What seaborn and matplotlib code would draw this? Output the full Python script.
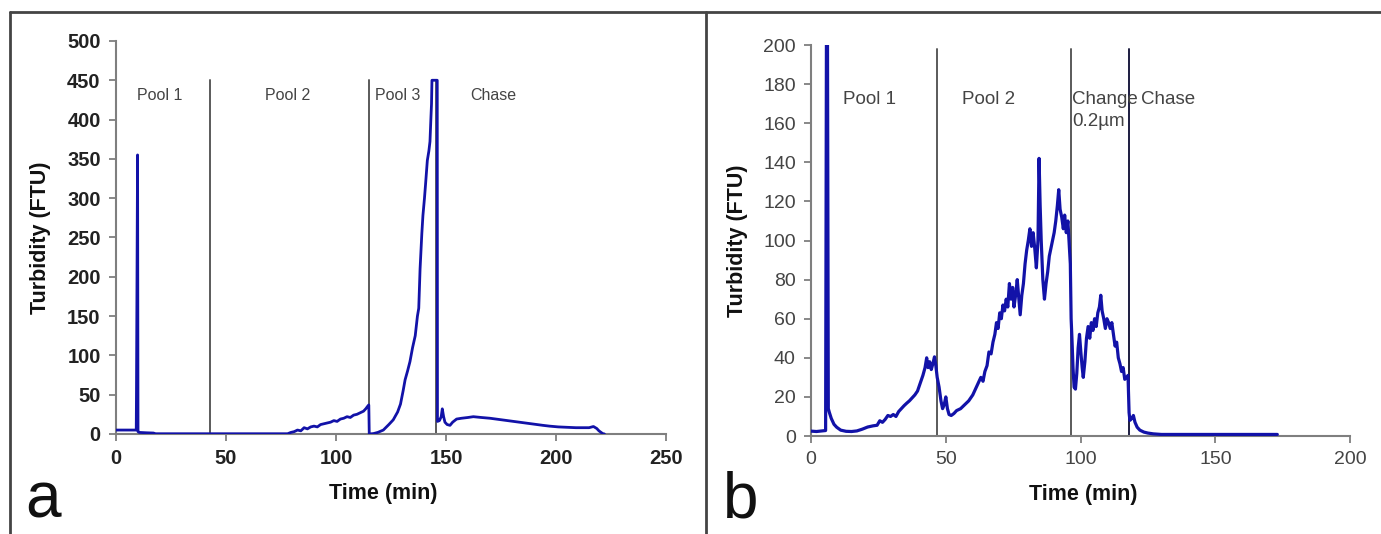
import matplotlib
matplotlib.use("Agg")
import matplotlib.pyplot as plt
import seaborn as sns
import pandas as pd
from matplotlib.lines import Line2D
from matplotlib import font_manager

# ---------------- data ----------------
time_a = [0, 9.2, 9.3, 9.8, 10.0, 10.5, 14, 17, 18, 78, 79.5, 81, 82.5, 84, 85.5, 87, 88.5, 90,
          91.5, 93, 94.5, 96, 97.5, 99, 100.5, 102, 103.5, 105, 106.5, 108, 109.5, 111, 112.5,
          113.5, 114.3, 114.9, 115.1, 117, 119, 121.5, 124, 126, 128, 129.3, 130.5, 131.4, 132.5,
          133.6, 134.8, 136, 137, 137.6, 138.2, 139, 139.5, 140.2, 140.7, 141.5, 142.2, 142.7,
          143.1, 143.4, 143.6, 146, 146.1, 147, 147.8, 148.3, 148.9, 149.5, 150.5, 151.8, 153,
          154.8, 157, 160, 162.4, 166, 170, 174, 178, 182, 186, 190, 194, 197, 201, 205, 209,
          212.4, 215, 217, 218.5, 219.5, 221.2, 222]
turb_a = [5, 5, 50, 355, 3, 2, 1.5, 1.2, 0.3, 0.3, 2, 3, 5, 4, 8, 6.5, 9, 10,
          9, 12, 13, 14, 15, 17, 16, 19, 20, 22, 21, 24, 25, 27, 29,
          32, 35, 37, 0, 0.5, 2, 5, 12, 18, 28, 38, 55, 69, 80,
          92, 110, 125, 150, 160, 210, 255, 278, 300, 318, 348, 360, 372,
          400, 420, 450, 450, 16, 17, 22, 32, 22, 15, 12, 11, 15,
          19, 20, 21, 22, 21, 20, 18.5, 17, 15.5, 14, 12.5, 11, 10, 9, 8.5, 8,
          8, 8, 9.5, 7, 4, 0.5, 0]

time_b = [0, 2, 4, 5.4, 5.7, 6.1, 6.4, 6.8, 7.5, 8.5, 9.5, 11, 13, 15, 17, 19, 21, 23, 24.5,
          25.5, 26.5, 27.5, 28.5, 29.5, 30.5, 31.5, 32.5, 33.5, 34.5, 35.5, 36.5, 37.5, 38.5,
          39.5, 40.5, 41.5, 42.3, 42.9, 43.4, 44, 44.6, 45.2, 45.8, 46.3, 46.8, 47.5, 48.2, 48.8,
          49.4, 50, 50.6, 51.2, 52, 53, 54, 55.5, 57, 58.5, 60, 61, 62, 63, 63.8, 64.5, 65.3, 66,
          66.8, 67.5, 68.2, 68.8, 69.4, 70, 70.6, 71.2, 71.8, 72.4, 73, 73.6, 74.2, 74.8, 75.3,
          75.9, 76.5, 77.1, 77.6, 78.2, 78.8, 79.4, 80, 80.6, 81.2, 81.8, 82.4, 83, 83.6, 84.2,
          84.6, 85, 85.4, 86, 86.6, 87.2, 87.8, 88.4, 89, 89.6, 90.2, 90.8, 91.4, 91.9, 92.4, 93,
          93.6, 94.1, 94.7, 95.3, 95.8, 96.2, 96.5, 96.8, 97.2, 97.6, 98.1, 98.6, 99.1, 99.6,
          100.1, 100.6, 101, 101.6, 102.2, 102.8, 103.4, 104, 104.6, 105.2, 105.8, 106.4, 107,
          107.5, 108, 108.6, 109.2, 109.8, 110.4, 111, 111.6, 112.2, 112.8, 113.4, 114, 114.6,
          115.2, 115.8, 116.4, 117, 117.6, 118, 118.3, 119, 119.6, 120.2, 121, 122, 123.5, 125,
          127, 130, 173]
turb_b = [2.5, 2.3, 2.6, 2.8, 200, 200, 14, 12, 9, 6, 4.5, 3, 2.4, 2.3, 2.6, 3.5, 4.6, 5.2, 5.5,
          7.8, 7, 8.5, 10.5, 10, 11, 10, 12.5, 14, 15.5, 16.8, 18, 19.5, 21,
          23, 27, 31, 35, 40, 35, 38, 34, 37, 40.5, 36, 30, 25, 18, 14,
          16, 20, 14, 11, 10.5, 11.5, 13, 14, 16, 18, 21, 24, 27, 30, 28, 33, 36, 43,
          42, 48, 52, 58, 55, 63, 60, 67, 64, 70, 66, 78, 70, 76, 66,
          72, 80, 70, 62, 72, 78, 88, 95, 100, 106, 97, 104, 96, 86, 100,
          142, 118, 100, 80, 70, 78, 84, 92, 96, 100, 104, 110, 118, 126, 116, 112,
          106, 113, 104, 110, 98, 88, 60, 50, 35, 25, 24, 32, 45, 52,
          43, 35, 30, 38, 50, 56, 50, 58, 54, 60, 56, 63, 66,
          72, 64, 60, 55, 60, 58, 55, 58, 52, 46, 48, 40, 37,
          33, 35, 29, 30, 31, 12, 8, 9, 10.5, 7, 4.5, 3, 2, 1.5,
          1.1, 0.8, 0.8]

phase_lines_a = [42.7, 114.8, 145.5]
phase_lines_b = [46.7, 96.4, 118.0]
phase_labels_a = ["Pool 1", "Pool 2", "Pool 3", "Chase"]
phase_label_x_a = [9.5, 67.7, 117.7, 161.0]
phase_labels_b = ["Pool 1", "Pool 2", "Change", "Chase"]
phase_label_x_b = [11.9, 56.0, 97.0, 122.4]
extra_label_b = "0.2µm"

xticks_a = [0, 50, 100, 150, 200, 250]
yticks_a = [0, 50, 100, 150, 200, 250, 300, 350, 400, 450, 500]
xticks_b = [0, 50, 100, 150, 200]
yticks_b = [0, 20, 40, 60, 80, 100, 120, 140, 160, 180, 200]

# ---------------- style ----------------
sns.set_style("white")
plt.rcParams['font.family'] = ['Liberation Sans', 'DejaVu Sans']

installed = {f.name for f in font_manager.fontManager.ttflist}
narrow = 'Liberation Sans Narrow' if 'Liberation Sans Narrow' in installed else 'Liberation Sans'
narrow_size = 13 if narrow == 'Liberation Sans Narrow' else 11.5

LINE = "#1212a8"
SPINE = "#7f7f7f"
VLINE = "#5a5a5a"

fig = plt.figure(figsize=(13.81, 5.34), dpi=100)
ax_a = fig.add_axes([0.0840, 0.1873, 0.3983, 0.7360])
ax_b = fig.add_axes([0.5873, 0.1835, 0.3903, 0.7322])

df_a = pd.DataFrame({"Time (min)": time_a, "Turbidity (FTU)": turb_a})
df_b = pd.DataFrame({"Time (min)": time_b, "Turbidity (FTU)": turb_b})

for ax, df, vlines, vtop, xt, yt, xlim, ylim, bold, lw in [
    (ax_a, df_a, phase_lines_a, 450, xticks_a, yticks_a, (0, 250), (0, 500), True, 2.0),
    (ax_b, df_b, phase_lines_b, 198, xticks_b, yticks_b, (0, 200), (0, 200), False, 2.3),
]:
    for i, v in enumerate(vlines):
        col = "#1c1c40" if (ax is ax_b and i == 2) else VLINE
        ax.plot([v, v], [0, vtop], color=col, lw=1.4, zorder=1)
    sns.lineplot(data=df, x="Time (min)", y="Turbidity (FTU)", ax=ax, color=LINE,
                 lw=lw, estimator=None, sort=False, zorder=3)
    ax.set_xlim(*xlim)
    ax.set_ylim(*ylim)
    ax.set_xticks(xt)
    ax.set_yticks(yt)
    for s in ["top", "right"]:
        ax.spines[s].set_visible(False)
    for s in ["left", "bottom"]:
        ax.spines[s].set_color(SPINE)
        ax.spines[s].set_linewidth(1.5)
    ax.tick_params(axis="both", direction="out", length=5, width=1.3, color=SPINE,
                   labelsize=14.5 if bold else 14,
                   labelcolor="#222222" if bold else "#444444", pad=6,
                   left=True, bottom=True)
    for lab in ax.get_xticklabels() + ax.get_yticklabels():
        lab.set_fontweight("bold" if bold else "normal")
    ax.set_xlabel("Time (min)", fontsize=15.5, fontweight="bold", color="#111111")
    ax.set_ylabel("Turbidity (FTU)", fontsize=15.5, fontweight="bold", color="#111111")
    ax.set_facecolor("white")

for t, x in zip(phase_labels_a, phase_label_x_a):
    ax_a.text(x, 431, t, fontsize=narrow_size, family=[narrow, 'DejaVu Sans'],
              color="#444444", ha="left", va="center")
for t, x in zip(phase_labels_b, phase_label_x_b):
    ax_b.text(x, 172, t, fontsize=13.5, color="#444444", ha="left", va="center")
ax_b.text(phase_label_x_b[2], 161, extra_label_b, fontsize=13.5, color="#444444",
          ha="left", va="center")

ax_a.yaxis.set_label_coords(-0.118, 0.5)
ax_a.xaxis.set_label_coords(0.485, -0.125)
ax_b.yaxis.set_label_coords(-0.117, 0.5)
ax_b.xaxis.set_label_coords(0.505, -0.123)

# frame lines of the composite figure
fig.add_artist(Line2D([0.0069, 1.0], [0.9775, 0.9775], color="#444444", lw=2))
fig.add_artist(Line2D([0.0069, 0.0069], [0.0, 0.9775], color="#444444", lw=2))
fig.add_artist(Line2D([0.5112, 0.5112], [0.0, 0.9775], color="#444444", lw=2))

fig.text(0.0181, 0.030, "a", fontsize=46, color="#111111", va="baseline", ha="left")
fig.text(0.5235, 0.030, "b", fontsize=46, color="#111111", va="baseline", ha="left")

fig.savefig("out.png", dpi=100, facecolor="white")
